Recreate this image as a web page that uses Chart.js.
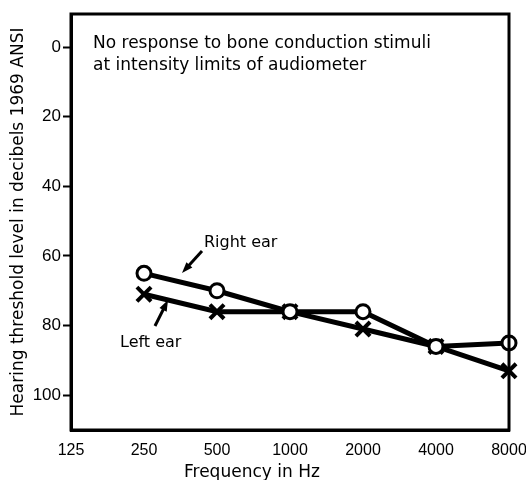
<!DOCTYPE html>
<html>
<head>
<meta charset="utf-8">
<script src="https://cdn.jsdelivr.net/npm/chart.js@4"></script>
<style>
  html, body { margin: 0; padding: 0; background: #fff; }
  #wrap { width: 526px; height: 480px; }
</style>
</head>
<body>
<div id="wrap"><canvas id="audiogram"></canvas></div>
<script>
// frequencies (Hz), one column per octave
const frequencies = ['125', '250', '500', '1000', '2000', '4000', '8000'];
// hearing threshold (dB), null = not tested
const rightEar = [null, 65, 70, 76, 76, 86, 85];
const leftEar = [null, 71, 76, 76, 81, 86, 93];
const yTicks = [0, 20, 40, 60, 80, 100];

const FONT = 'Liberation Sans, Arial, sans-serif';
const WIDE = 'DejaVu Sans, sans-serif';

// box around plot + text notes with arrows
const notesPlugin = {
    id: 'notes',
    afterDraw(chart) {
        const ctx = chart.ctx;
        const a = chart.chartArea;
        ctx.save();
        ctx.strokeStyle = '#000';
        ctx.lineWidth = 3;
        ctx.strokeRect(a.left, a.top, a.right - a.left, a.bottom - a.top);

        ctx.fillStyle = '#000';
        ctx.font = '17px ' + WIDE;
        ctx.textBaseline = 'alphabetic';
        ctx.fillText('No response to bone conduction stimuli', 93, 48);
        ctx.fillText('at intensity limits of audiometer', 93, 70);
        ctx.font = '16px ' + WIDE;
        ctx.fillText('Right ear', 204, 247);
        ctx.fillText('Left ear', 120, 347);
        // x axis title sits left of centre in the original
        ctx.font = '17px ' + WIDE;
        ctx.fillText('Frequency in Hz', 184, 477);

        arrow(ctx, 202, 251, 182, 273);
        arrow(ctx, 155, 326, 168, 300);
        ctx.restore();
    }
};

function arrow(ctx, x1, y1, x2, y2) {
    const ang = Math.atan2(y2 - y1, x2 - x1);
    const len = 11, half = 4;
    ctx.lineWidth = 3;
    ctx.beginPath();
    ctx.moveTo(x1, y1);
    ctx.lineTo(x2 - Math.cos(ang) * len * 0.8, y2 - Math.sin(ang) * len * 0.8);
    ctx.stroke();
    ctx.beginPath();
    ctx.moveTo(x2, y2);
    ctx.lineTo(x2 - Math.cos(ang) * len - Math.sin(ang) * half, y2 - Math.sin(ang) * len + Math.cos(ang) * half);
    ctx.lineTo(x2 - Math.cos(ang) * len + Math.sin(ang) * half, y2 - Math.sin(ang) * len - Math.cos(ang) * half);
    ctx.closePath();
    ctx.fill();
}

new Chart(document.getElementById('audiogram'), {
    type: 'line',
    data: {
        labels: frequencies,
        datasets: [
            {
                label: 'Right ear', data: rightEar,
                borderColor: '#000', borderWidth: 5,
                pointStyle: 'circle', pointRadius: 7, pointBorderWidth: 3,
                pointBackgroundColor: '#fff', pointBorderColor: '#000'
            },
            {
                label: 'Left ear', data: leftEar,
                borderColor: '#000', borderWidth: 5,
                pointStyle: 'crossRot', pointRadius: 10, pointBorderWidth: 4,
                pointBorderColor: '#000'
            }
        ]
    },
    options: {
        responsive: true, maintainAspectRatio: false,
        animation: false,
        layout: { padding: { top: 9, right: 17, left: 0, bottom: 0 } },
        plugins: { legend: { display: false }, tooltip: { enabled: false } },
        scales: {
            x: {
                offset: false,
                grid: { display: false },
                border: { display: true, color: '#000', width: 3 },
                ticks: { color: '#000', font: { family: FONT, size: 16 }, padding: 3, maxRotation: 0, autoSkip: false },
                afterFit(s) { s.height = 50; s.paddingLeft = 0; s.paddingRight = 0; }
            },
            y: {
                reverse: true, min: -9.5, max: 110,
                afterBuildTicks(s) { s.ticks = yTicks.map(v => ({ value: v })); },
                grid: { drawOnChartArea: false, drawTicks: true, tickLength: 8, tickWidth: 2, tickColor: '#000' },
                border: { display: true, color: '#000', width: 3 },
                ticks: { color: '#000', font: { family: FONT, size: 17 }, padding: 2 },
                title: { display: true, text: 'Hearing threshold level in decibels 1969 ANSI', color: '#000', font: { family: WIDE, size: 17 }, padding: { top: 8, bottom: 0 } },
                afterFit(s) { s.width = 71; s.paddingTop = 0; s.paddingBottom = 0; }
            }
        }
    },
    plugins: [notesPlugin]
});
</script>
</body>
</html>
